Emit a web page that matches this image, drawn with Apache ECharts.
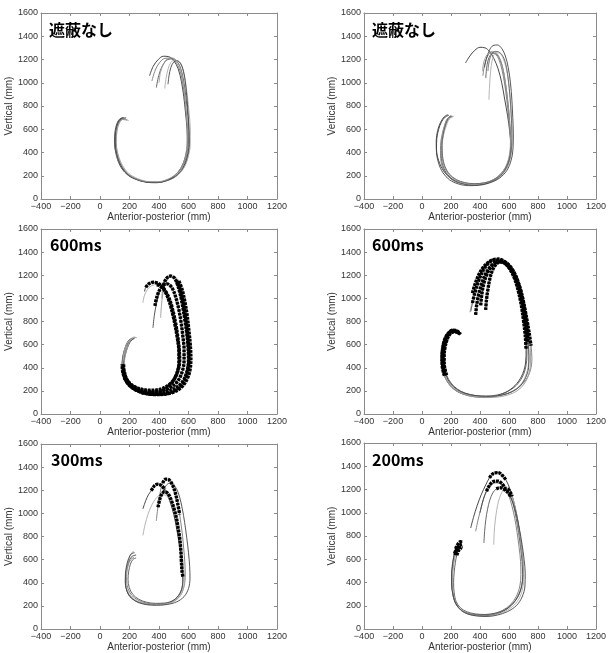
<!DOCTYPE html>
<html><head><meta charset="utf-8">
<script src="https://cdn.jsdelivr.net/npm/echarts@6/dist/echarts.min.js"></script>
<style>html,body{margin:0;padding:0;background:#fff}#c{width:609px;height:653px}</style>
</head><body><div id="c"></div>
<script>
// ---- tick labels / names ----
const xTicks = [-400,-200,0,200,400,600,800,1000,1200];
const yTicks = [0,200,400,600,800,1000,1200,1400,1600];
const xName = 'Anterior-posterior (mm)';
const yName = 'Vertical (mm)';
const panelLabels = ['遮蔽なし','遮蔽なし','600ms','600ms','300ms','200ms'];

// ---- trajectories: [anterior-posterior mm, vertical mm, highlighted(1)] ----
// Panel 1: 遮蔽なし (left)
const p1c1 = [[336,1060],[360,1140],[395,1200],[430,1228],[465,1225],[500,1190],[530,1120],[552,1010],[568,880],[580,740],[590,600],[592,480],[580,370],[550,270],[500,195],[440,155],[380,140],[310,145],[240,170],[180,215],[135,290],[108,390],[98,490],[102,580],[115,650],[135,690],[160,700]];
const p1c2 = [[352,1015],[375,1110],[405,1175],[440,1210],[475,1212],[510,1185],[538,1120],[558,1020],[572,890],[584,750],[594,610],[598,490],[588,380],[560,280],[510,205],[450,163],[385,145],[315,148],[245,172],[185,215],[140,290],[112,390],[102,490],[106,580],[120,650],[142,688],[175,690]];
const p1c3 = [[382,958],[398,1060],[425,1150],[460,1200],[495,1205],[530,1170],[555,1090],[572,980],[585,850],[596,710],[604,580],[606,470],[594,360],[565,265],[515,195],[455,158],[390,142],[320,146],[250,170],[190,212],[145,285],[116,385],[106,485],[110,580],[125,650],[150,684],[185,680]];
const p1c4 = [[439,950],[448,1040],[462,1120],[480,1175],[505,1195],[535,1180],[560,1120],[578,1020],[592,890],[604,740],[612,600],[612,480],[600,370],[570,270],[520,200],[460,162],[395,146],[325,150],[255,176],[195,220],[150,295],[120,395],[110,495],[116,590],[132,655],[158,686],[195,675]];
const p1c5 = [[461,987],[468,1060],[480,1130],[498,1175],[520,1190],[545,1170],[566,1100],[580,990],[590,860],[598,720],[603,590],[603,470],[590,360],[560,265],[510,195],[450,158],[385,142],[315,146],[245,171],[187,214],[142,290],[114,390],[104,490],[108,585],[122,655],[146,692],[178,698]];
const p1c6 = [[400,1000],[410,1090],[430,1160],[455,1205],[485,1215],[515,1195],[540,1140],[558,1050],[572,930],[582,790],[590,650],[592,520],[584,400],[560,295],[515,215],[455,168],[390,148],[320,150],[250,172],[192,214],[148,288],[120,386],[110,486],[113,578],[126,645],[148,682],[172,686]];

// Panel 2: 遮蔽なし (right)
const p2c1 = [[300,1170],[330,1230],[365,1280],[400,1305],[435,1300],[465,1270],[495,1210],[525,1120],[550,1000],[570,860],[590,720],[605,580],[612,470],[605,370],[580,280],[535,205],[475,155],[405,128],[330,125],[260,140],[200,175],[150,240],[115,330],[100,430],[102,520],[115,600],[135,665],[160,705],[185,720]];
const p2c2 = [[420,1060],[428,1130],[442,1200],[460,1245],[480,1262],[505,1250],[530,1200],[552,1110],[570,990],[585,850],[598,700],[608,560],[612,450],[605,350],[580,260],[540,195],[480,150],[410,125],[340,120],[275,132],[215,160],[170,210],[140,280],[128,370],[128,460],[138,550],[155,630],[175,690],[205,715]];
const p2c3 = [[440,1040],[445,1120],[455,1190],[470,1235],[490,1255],[515,1245],[538,1200],[558,1120],[575,1000],[590,860],[602,710],[610,570],[614,460],[606,355],[582,265],[540,198],[482,152],[412,127],[342,122],[278,134],[220,162],[175,212],[146,283],[134,372],[134,462],[144,550],[160,628],[182,688],[212,712]];
const p2c4 = [[461,854],[465,950],[470,1050],[478,1150],[490,1220],[510,1258],[535,1255],[558,1215],[578,1140],[594,1030],[606,890],[614,740],[620,600],[620,480],[612,370],[588,275],[545,205],[488,158],[418,132],[350,126],[285,138],[228,166],[182,216],[152,288],[140,378],[140,468],[150,556],[168,632],[190,690],[220,712]];
const p2c5 = [[430,1130],[445,1210],[465,1280],[490,1320],[520,1325],[550,1295],[575,1230],[595,1130],[610,1000],[620,850],[626,700],[630,560],[628,440],[615,335],[585,245],[535,180],[470,140],[395,118],[320,115],[250,130],[190,165],[145,225],[115,305],[100,400],[98,500],[108,590],[128,660],[155,710],[180,725]];
const p2c6 = [[416,1098],[425,1170],[440,1225],[462,1258],[487,1270],[512,1258],[535,1215],[555,1140],[572,1030],[586,900],[598,760],[606,620],[610,500],[604,390],[582,290],[544,215],[490,165],[425,138],[355,130],[290,140],[232,166],[186,212],[154,280],[138,365],[134,455],[140,545],[154,622],[172,685],[195,712]];
const p2c7 = [[455,1100],[460,1160],[470,1215],[484,1250],[505,1270],[530,1265],[555,1235],[575,1175],[590,1080],[602,950],[612,800],[618,650],[620,520],[614,400],[592,300],[555,220],[500,168],[432,140],[360,132],[293,142],[236,168],[190,214],[158,282],[142,368],[138,458],[145,548],[160,625],[178,690],[200,718]];

// Panel 3: 600ms (left)
const p3c1 = [[302,1060,0],[310,1095,1],[330,1125,1],[360,1140,1],[390,1132,1],[418,1105,1],[445,1050,1],[470,970,1],[492,870,1],[510,760,1],[525,650,1],[535,540,1],[535,440,1],[520,350,1],[490,275,1],[445,220,1],[390,190,1],[330,185,1],[270,200,1],[215,235,1],[175,290,1],[155,360,1],[150,430,1],[158,510,0],[172,580,0],[190,630,0],[215,655,0]];
const p3c2 = [[420,1000,0],[425,1080,1],[440,1150,1],[460,1185,1],[480,1193,1],[505,1175,1],[525,1120,1],[545,1030,1],[562,920,1],[577,800,1],[590,680,1],[598,560,1],[600,460,1],[590,370,1],[565,290,1],[520,230,1],[460,195,1],[395,180,1],[330,185,1],[270,203,1],[220,238,1],[185,290,1],[165,360,1],[160,430,1],[165,510,0],[180,575,0],[200,625,0],[230,650,0]];
const p3c3 = [[372,935,1],[385,1010,1],[405,1075,1],[430,1115,1],[455,1125,1],[480,1105,1],[500,1060,1],[518,990,1],[535,900,1],[550,790,1],[562,670,1],[570,560,1],[570,460,1],[558,370,1],[530,290,1],[485,235,1],[430,205,1],[370,195,1],[310,200,1],[255,220,1],[205,255,1],[172,305,1],[155,370,1],[150,440,0],[158,520,0],[178,590,0],[205,640,0],[225,660,0]];
const p3c4 = [[291,962,0],[300,1020,0],[320,1075,0],[350,1110,0],[385,1120,1],[420,1100,1],[450,1050,1],[475,980,1],[495,890,1],[512,790,1],[526,680,1],[536,570,1],[540,470,1],[530,380,1],[505,305,1],[465,250,1],[410,215,1],[350,205,1],[290,212,1],[235,235,1],[192,280,1],[165,345,1],[155,420,1],[158,500,0],[170,570,0],[190,625,0],[215,650,0]];
const p3c5 = [[359,745,0],[368,850,0],[382,950,0],[400,1040,0],[420,1110,0],[445,1160,0],[470,1185,0],[495,1185,0],[518,1155,1],[540,1090,1],[558,1000,1],[574,880,1],[588,750,1],[598,620,1],[603,500,1],[598,400,1],[580,310,1],[545,240,1],[495,195,1],[432,172,1],[365,170,1],[300,180,1],[245,205,1],[200,245,1],[172,300,1],[160,370,1],[162,450,0],[175,530,0],[195,600,0],[215,640,0],[240,660,0]];
const p3c6 = [[411,832,0],[416,930,0],[425,1030,0],[440,1110,0],[460,1165,0],[485,1190,0],[510,1185,0],[535,1150,1],[556,1080,1],[574,980,1],[590,860,1],[602,730,1],[612,600,1],[616,480,1],[610,380,1],[590,300,1],[555,235,1],[505,192,1],[445,172,1],[380,168,1],[318,176,1],[262,198,1],[215,235,1],[182,290,1],[166,360,1],[165,430,0],[172,510,0],[188,580,0],[205,630,0],[230,665,0],[250,660,0]];

// Panel 4: 600ms (right)
const p4c1 = [[336,886,0],[348,960,1],[365,1050,1],[390,1150,1],[420,1240,1],[455,1300,1],[495,1330,1],[535,1330,1],[575,1300,1],[610,1245,1],[640,1165,1],[665,1060,1],[685,940,1],[700,810,1],[712,680,1],[718,560,1],[715,450,0],[695,350,0],[655,265,0],[595,200,0],[520,160,0],[440,145,0],[360,150,0],[290,170,0],[230,205,0],[185,260,0],[155,330,1],[140,410,1],[138,490,1],[145,570,1],[160,640,1],[180,690,1],[205,715,1],[230,718,1],[255,700,1]];
const p4c2 = [[370,858,1],[378,950,1],[392,1040,1],[412,1130,1],[438,1210,1],[470,1270,1],[505,1310,1],[540,1325,1],[578,1310,1],[615,1265,1],[648,1190,1],[676,1090,1],[700,970,1],[720,840,1],[738,710,1],[752,590,1],[758,480,0],[748,380,0],[716,295,0],[662,225,0],[592,180,0],[510,155,0],[428,148,0],[348,155,0],[278,178,0],[222,215,0],[182,270,0],[157,340,1],[146,420,1],[145,500,1],[152,580,1],[165,650,1],[185,700,1],[210,725,1],[240,720,1],[265,690,1]];
const p4c3 = [[439,900,1],[445,990,1],[455,1080,1],[468,1170,1],[485,1240,1],[508,1290,1],[535,1315,1],[565,1310,1],[598,1275,1],[630,1210,1],[658,1120,1],[682,1010,1],[700,880,1],[714,750,1],[722,630,1],[724,520,0],[716,410,0],[692,320,0],[648,245,0],[590,195,0],[520,165,0],[445,155,0],[370,160,0],[300,180,0],[245,215,0],[200,268,0],[170,335,1],[155,410,1],[152,490,1],[158,570,1],[172,640,1],[192,690,1],[218,712,1],[245,708,1],[265,688,1]];
const p4c4 = [[348,1045,1],[365,1120,1],[390,1200,1],[420,1265,1],[455,1310,1],[492,1335,1],[530,1340,1],[568,1320,1],[605,1278,1],[638,1215,1],[665,1130,1],[688,1030,1],[706,910,1],[720,790,1],[730,670,1],[736,560,0],[735,450,0],[720,350,0],[688,265,0],[635,205,0],[565,168,0],[488,152,0],[410,150,0],[335,160,0],[270,185,0],[218,225,0],[180,280,0],[155,350,1],[142,430,1],[140,510,1],[146,590,1],[160,655,1],[182,700,1],[210,722,1],[238,715,1],[262,690,1]];
const p4c5 = [[405,940,1],[412,1030,1],[425,1120,1],[445,1200,1],[472,1265,1],[505,1305,1],[540,1318,1],[575,1300,1],[610,1255,1],[642,1185,1],[668,1095,1],[690,985,1],[708,860,1],[722,735,1],[732,610,1],[738,500,0],[735,400,0],[715,315,0],[678,245,0],[625,195,0],[555,165,0],[478,153,0],[400,155,0],[328,168,0],[265,195,0],[215,238,0],[180,295,0],[160,365,1],[150,445,1],[150,525,1],[158,600,1],[175,660,1],[198,700,1],[225,715,1],[250,705,1]];
const p4c6 = [[330,880,0],[345,960,0],[365,1050,0],[390,1140,0],[420,1215,0],[455,1270,0],[495,1300,0],[540,1305,0],[582,1280,0],[620,1228,0],[655,1150,0],[684,1050,0],[708,930,0],[726,800,0],[740,670,0],[748,550,0],[748,440,0],[735,340,0],[705,260,0],[655,200,0],[588,163,0],[510,145,0],[430,142,0],[352,150,0],[282,172,0],[225,210,0],[182,265,0],[152,335,0],[135,415,0],[130,500,0],[135,585,0],[150,650,0],[172,695,0],[200,720,0]];

// Panel 5: 300ms (left)
const p5c1 = [[291,1039,0],[310,1110,0],[330,1165,0],[348,1196,1],[370,1240,1],[393,1253,1],[418,1240,1],[440,1205,1],[460,1150,0],[480,1080,0],[500,990,0],[518,880,0],[534,760,0],[548,640,0],[558,530,0],[562,430,0],[552,340,0],[522,275,0],[475,232,0],[415,214,0],[350,212,0],[290,222,0],[240,245,0],[200,285,0],[180,340,0],[172,410,0],[175,480,0],[185,545,0],[200,600,0],[220,630,0],[245,640,0]];
const p5c2 = [[382,935,0],[390,1030,0],[402,1130,0],[412,1210,0],[425,1262,1],[445,1296,1],[468,1290,1],[490,1250,1],[510,1180,1],[526,1090,1],[540,990,1],[550,900,0],[560,800,0],[568,690,0],[575,580,0],[578,470,0],[570,370,0],[545,290,0],[500,240,0],[440,218,0],[375,215,0],[312,225,0],[258,250,0],[215,292,0],[190,350,0],[180,420,0],[182,490,0],[192,555,0],[208,600,0],[230,620,0]];
const p5c3 = [[393,1053,1],[405,1120,1],[418,1165,1],[439,1188,1],[462,1170,1],[484,1110,1],[502,1040,1],[518,960,1],[530,870,1],[541,781,1],[548,680,1],[552,581,1],[556,500,1],[562,452,1],[560,380,0],[540,300,0],[498,248,0],[440,225,0],[375,222,0],[315,232,0],[262,258,0],[222,300,0],[198,360,0],[190,430,0],[195,500,0],[206,560,0],[222,600,0],[245,615,0]];
const p5c4 = [[291,810,0],[305,900,0],[325,990,0],[350,1070,0],[380,1130,0],[410,1160,0],[440,1160,0],[465,1130,0],[488,1070,0],[508,990,0],[526,890,0],[542,780,0],[556,660,0],[566,540,0],[572,440,0],[565,350,0],[540,280,0],[495,235,0],[435,215,0],[370,210,0],[305,218,0],[250,242,0],[208,285,0],[184,345,0],[175,415,0],[177,490,0],[186,560,0],[200,620,0],[215,660,0],[230,670,0]];
const p5c5 = [[420,1150,0],[430,1200,0],[448,1240,0],[470,1260,0],[495,1250,0],[520,1210,0],[540,1140,0],[558,1040,0],[574,920,0],[588,790,0],[600,660,0],[608,540,0],[610,440,0],[600,350,0],[570,280,0],[520,235,0],[455,212,0],[385,205,0],[318,210,0],[258,230,0],[212,268,0],[184,325,0],[172,395,0],[172,470,0],[180,545,0],[194,610,0],[212,650,0],[235,660,0]];

// Panel 6: 200ms (right)
const p6c1 = [[336,869,0],[355,960,0],[380,1060,0],[410,1160,0],[440,1240,0],[465,1300,1],[495,1340,1],[525,1345,1],[555,1320,1],[580,1280,1],[605,1210,0],[630,1110,0],[652,990,0],[670,860,0],[684,730,0],[694,610,0],[698,500,0],[692,400,0],[668,300,0],[628,220,0],[570,160,0],[500,125,0],[430,115,0],[360,120,0],[300,140,0],[255,180,0],[225,240,0],[210,320,0],[205,410,0],[208,500,0],[215,580,0],[225,650,1],[240,690,1],[262,705,1]];
const p6c2 = [[370,840,0],[385,930,0],[405,1030,0],[425,1120,0],[445,1185,1],[468,1240,1],[495,1270,1],[525,1272,1],[552,1250,1],[575,1210,1],[598,1150,0],[620,1060,0],[640,950,0],[656,830,0],[670,700,0],[680,580,0],[682,470,0],[675,370,0],[650,280,0],[610,210,0],[555,160,0],[490,132,0],[420,122,0],[352,126,0],[295,145,0],[252,182,0],[225,240,0],[212,320,0],[208,410,0],[212,500,0],[220,580,0],[230,640,1],[245,685,1],[265,705,1],[280,700,1]];
const p6c3 = [[427,740,0],[432,840,0],[440,940,0],[452,1030,0],[468,1110,0],[488,1170,0],[512,1205,1],[540,1215,1],[568,1200,1],[595,1170,1],[612,1140,1],[632,1060,0],[650,950,0],[666,830,0],[680,700,0],[690,580,0],[694,470,0],[688,370,0],[665,285,0],[625,215,0],[570,165,0],[505,135,0],[435,125,0],[368,130,0],[310,148,0],[265,182,0],[236,235,0],[222,310,0],[218,400,0],[222,490,0],[230,570,0],[240,635,1],[255,680,1],[272,700,1]];
const p6c4 = [[495,725,0],[498,830,0],[505,930,0],[515,1020,0],[528,1100,0],[545,1160,0],[565,1200,1],[588,1205,1],[607,1180,1],[622,1140,1],[640,1060,0],[658,950,0],[675,820,0],[688,690,0],[698,570,0],[702,460,0],[696,360,0],[675,275,0],[635,205,0],[578,155,0],[510,125,0],[440,112,0],[372,115,0],[312,132,0],[264,168,0],[232,225,0],[215,300,0],[208,390,0],[210,480,0],[218,565,0],[228,635,1],[242,690,1],[260,720,1],[275,730,1]];
const p6c5 = [[400,1000,0],[415,1080,0],[432,1150,0],[455,1210,0],[482,1245,0],[510,1258,0],[540,1250,0],[570,1220,0],[600,1160,0],[628,1080,0],[652,980,0],[672,860,0],[690,730,0],[704,600,0],[712,480,0],[710,370,0],[690,275,0],[650,200,0],[590,150,0],[520,120,0],[448,108,0],[378,112,0],[318,128,0],[268,162,0],[234,218,0],[214,295,0],[204,385,0],[204,475,0],[210,560,0],[220,630,0],[232,690,1],[248,730,1],[265,750,1],[280,745,1]];

const panels = [
  [p1c1,p1c2,p1c3,p1c4,p1c5,p1c6],
  [p2c1,p2c2,p2c3,p2c4,p2c5,p2c6,p2c7],
  [p3c1,p3c2,p3c3,p3c4,p3c5,p3c6],
  [p4c1,p4c2,p4c3,p4c4,p4c5,p4c6],
  [p5c1,p5c2,p5c3,p5c4,p5c5],
  [p6c1,p6c2,p6c3,p6c4,p6c5]
];

// ---- layout & style ----
const grids = [
  {left:41, top:13, width:236, height:186},
  {left:364, top:13, width:237, height:186},
  {left:41, top:229, width:236, height:185},
  {left:364, top:229, width:237, height:185},
  {left:41, top:444, width:236, height:187},
  {left:364, top:443, width:237, height:187}
];
const labelPos = [[49,22],[372,22],[50,237],[372,237],[51,452],[372,452]];
const thinColors = ['#333','#777','#555','#aaa','#444','#999','#666'];
const AX = '#8a8a8a', TX = '#333', FF = 'Liberation Sans, Arial, sans-serif';
const fmt = v => String(v).replace('-', '\u2212');

const option = {animation:false, backgroundColor:'#fff', grid:[], xAxis:[], yAxis:[], series:[], title:[]};
grids.forEach((g, i) => {
  option.grid.push(Object.assign({show:false, containLabel:false}, g));
  const common = {gridIndex:i, type:'value', splitLine:{show:false},
    axisLine:{show:true, onZero:false, lineStyle:{color:AX, width:1}},
    axisTick:{show:true, inside:true, length:3, lineStyle:{color:AX}}};
  option.xAxis.push(Object.assign({}, common, {position:'bottom',
    min:xTicks[0], max:xTicks[xTicks.length-1], interval:xTicks[1]-xTicks[0],
    axisLabel:{show:true, color:TX, fontSize:9, fontFamily:FF, margin:3, showMinLabel:true, showMaxLabel:true, formatter:fmt},
    name:xName, nameLocation:'middle', nameGap:13, nameTextStyle:{color:TX, fontSize:10, fontFamily:FF}}));
  option.xAxis.push(Object.assign({}, common, {position:'top',
    min:xTicks[0], max:xTicks[xTicks.length-1], interval:xTicks[1]-xTicks[0], axisLabel:{show:false}}));
  option.yAxis.push(Object.assign({}, common, {position:'left',
    min:yTicks[0], max:yTicks[yTicks.length-1], interval:yTicks[1]-yTicks[0],
    axisLabel:{show:true, color:TX, fontSize:9, fontFamily:FF, margin:3, showMinLabel:true, showMaxLabel:true, formatter:fmt},
    name:yName, nameLocation:'middle', nameGap:21, nameRotate:90, nameTextStyle:{color:TX, fontSize:10, fontFamily:FF}}));
  option.yAxis.push(Object.assign({}, common, {position:'right',
    min:yTicks[0], max:yTicks[yTicks.length-1], interval:yTicks[1]-yTicks[0], axisLabel:{show:false}}));
  option.title.push({text:panelLabels[i], left:labelPos[i][0], top:labelPos[i][1], padding:0,
    textStyle:{fontSize:16, fontWeight:'bold', color:'#000', fontFamily:'Noto Sans CJK JP'}});

  const xi = i*2, yi = i*2;
  panels[i].forEach((curve, k) => {
    option.series.push({type:'line', xAxisIndex:xi, yAxisIndex:yi, data:curve.map(p => [p[0], p[1]]),
      smooth:0.35, showSymbol:false, symbol:'none', silent:true,
      lineStyle:{color:thinColors[k % thinColors.length], width:0.9}, z:2});
    // highlighted runs
    let run = [];
    const flush = () => {
      if (run.length >= 2) option.series.push({type:'line', xAxisIndex:xi, yAxisIndex:yi, data:run,
        smooth:0.35, showSymbol:false, symbol:'none', silent:true,
        lineStyle:{color:'#000', width:3.4, type:[2.8, 0.9], cap:'butt'}, z:3});
      run = [];
    };
    curve.forEach(p => { if (p[2]) run.push([p[0], p[1]]); else flush(); });
    flush();
  });
});

const chart = echarts.init(document.getElementById('c'), null, {renderer:'canvas'});
chart.setOption(option);
</script>
</body></html>
